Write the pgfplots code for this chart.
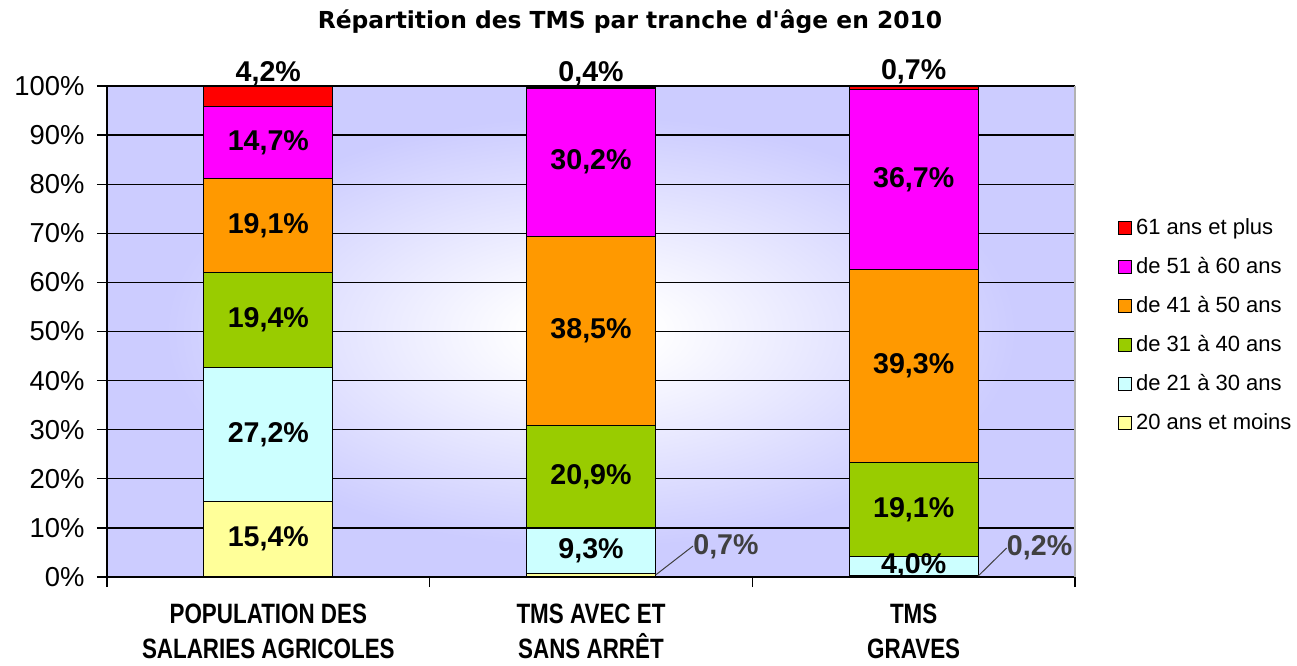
\documentclass[border=0pt]{standalone}
\usepackage{fontspec}
\setmainfont{Liberation Sans}
\newfontfamily\titlefont{DejaVu Sans}
\newfontfamily\condfont[FakeStretch=0.80]{Liberation Sans}
\usepackage{pgfplots}
\pgfplotsset{compat=1.18}
\definecolor{lav}{RGB}{204,204,255}
\definecolor{c61}{RGB}{255,0,0}
\definecolor{c51}{RGB}{255,0,255}
\definecolor{c41}{RGB}{255,153,0}
\definecolor{c31}{RGB}{153,204,0}
\definecolor{c21}{RGB}{204,255,255}
\definecolor{c20}{RGB}{255,255,153}
\pgfdeclareradialshading{bgshade}{\pgfpoint{0bp}{0bp}}{color(0bp)=(white); color(3bp)=(white); color(22bp)=(lav); color(50bp)=(lav)}
\pgfplotsset{lgsq/.style={legend image code/.code={\draw[##1, draw=black, line width=0.5pt] (0pt,-3.25pt) rectangle (6.5pt,3.25pt);}}}
\tikzset{bl/.style={font=\bfseries\fontsize{14.3}{16}\selectfont}}
\begin{document}
\begin{tikzpicture}
\useasboundingbox (0,0) rectangle (648.5pt,332.5pt);
\node[font=\titlefont\bfseries\fontsize{11.7}{13}\selectfont] at (315pt,321.5pt) {Répartition des TMS par tranche d'âge en 2010};
\begin{axis}[
  scale only axis, width=484pt, height=245.5pt,
  at={(53.5pt,44pt)}, anchor=south west,
  ybar stacked, bar width=0.4,
  xmin=-0.5, xmax=2.5, ymin=0, ymax=100,
  clip=false,
  axis background/.style={shading=bgshade},
  axis x line*=bottom, axis y line*=left,
  axis line style={-, black, line width=0.8pt},
  tick align=outside, major tick length=5pt,
  tick style={black, line width=0.6pt},
  ytick={0,10,...,100},
  yticklabels={0\%,10\%,20\%,30\%,40\%,50\%,60\%,70\%,80\%,90\%,100\%},
  yticklabel style={font=\fontsize{13.7}{15}\selectfont, xshift=-2.7pt},
  ymajorgrids, major grid style={black, line width=0.6pt},
  xtick={-0.5,0.5,1.5,2.5}, xticklabels={},
  extra x ticks={0,1,2},
  extra x tick labels={{POPULATION DES\\SALARIES AGRICOLES},{TMS AVEC ET\\SANS ARRÊT},{TMS\\GRAVES}},
  extra x tick style={major tick length=0pt, tick label style={font=\condfont\bfseries\fontsize{14}{17.5}\selectfont, align=center, yshift=-10pt}},
  reverse legend,
  legend cell align=left,
  legend style={draw=none, fill=none, at={(1.038,0.747)}, anchor=north west,
    font=\fontsize{11}{13}\selectfont, row sep=5.9pt},
  every axis plot/.append style={draw=black, line width=0.6pt},
  after end axis/.code={
    \node[bl] at (axis cs:0,7.7) {15,4\%};
    \node[bl] at (axis cs:0,29.0) {27,2\%};
    \node[bl] at (axis cs:0,52.3) {19,4\%};
    \node[bl] at (axis cs:0,71.55) {19,1\%};
    \node[bl] at (axis cs:0,88.45) {14,7\%};
    \node[bl] at (axis cs:0,102.6) {4,2\%};
    \node[bl] at (axis cs:1,5.35) {9,3\%};
    \node[bl] at (axis cs:1,20.45) {20,9\%};
    \node[bl] at (axis cs:1,50.15) {38,5\%};
    \node[bl] at (axis cs:1,84.5) {30,2\%};
    \node[bl] at (axis cs:1,102.4) {0,4\%};
    \node[bl] at (axis cs:2,2.2) {4,0\%};
    \node[bl] at (axis cs:2,13.75) {19,1\%};
    \node[bl] at (axis cs:2,42.95) {39,3\%};
    \node[bl] at (axis cs:2,80.95) {36,7\%};
    \node[bl] at (axis cs:2,103.0) {0,7\%};
    \draw[black!75, line width=0.5pt] (axis cs:1.2,0.4) -- (axis cs:1.316,6.3);
    \node[bl, anchor=west, inner sep=0pt, text=black!75] at (axis cs:1.316,6.1) {0,7\%};
    \draw[black!75, line width=0.5pt] (axis cs:2.2,0.2) -- (axis cs:2.288,5.9);
    \node[bl, anchor=west, inner sep=0pt, text=black!75] at (axis cs:2.288,5.9) {0,2\%};
  },
]
\addplot[fill=c20, lgsq] coordinates {(0,15.4) (1,0.7) (2,0.2)};
\addplot[fill=c21, lgsq] coordinates {(0,27.2) (1,9.3) (2,4.0)};
\addplot[fill=c31, lgsq] coordinates {(0,19.4) (1,20.9) (2,19.1)};
\addplot[fill=c41, lgsq] coordinates {(0,19.1) (1,38.5) (2,39.3)};
\addplot[fill=c51, lgsq] coordinates {(0,14.7) (1,30.2) (2,36.7)};
\addplot[fill=c61, lgsq] coordinates {(0,4.2) (1,0.4) (2,0.7)};
\legend{20 ans et moins,de 21 à 30 ans,de 31 à 40 ans,de 41 à 50 ans,de 51 à 60 ans,61 ans et plus}
\draw[gray!60, line width=0.6pt] (rel axis cs:1,0) -- (rel axis cs:1,1);
\end{axis}
\end{tikzpicture}
\end{document}
